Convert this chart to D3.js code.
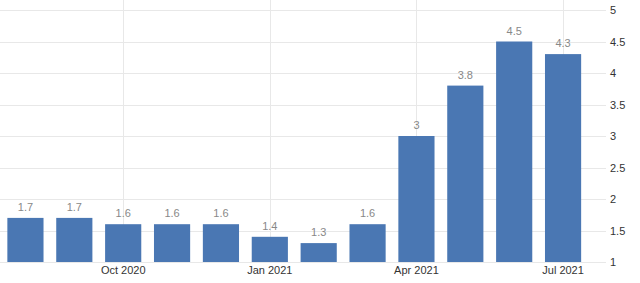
<!DOCTYPE html>
<html><head><meta charset="utf-8">
<script src="https://cdn.jsdelivr.net/npm/d3@7"></script>
<style>body{margin:0;background:#fff}svg{display:block}</style>
</head><body><div id="c"></div>
<script>
const months = ["Aug 2020","Sep 2020","Oct 2020","Nov 2020","Dec 2020","Jan 2021","Feb 2021","Mar 2021","Apr 2021","May 2021","Jun 2021","Jul 2021"];
const values = [1.7,1.7,1.6,1.6,1.6,1.4,1.3,1.6,3,3.8,4.5,4.3];
const xTickLabels = ["Oct 2020","Jan 2021","Apr 2021","Jul 2021"];
const yTicks = [1,1.5,2,2.5,3,3.5,4,4.5,5];

const W=640,H=283;
const svg=d3.select("#c").append("svg").attr("width",W).attr("height",H);
const x=d3.scaleBand().domain(months).range([1,587.5]).paddingInner(0.26).paddingOuter(0.13);
const y=d3.scaleLinear().domain([1,5]).range([262,10]);

// horizontal grid
svg.append("g").selectAll("line").data(yTicks).join("line")
 .attr("x1",0).attr("x2",606).attr("y1",d=>Math.round(y(d))+0.5).attr("y2",d=>Math.round(y(d))+0.5)
 .attr("stroke","#e8e8e8").attr("stroke-width",1);
// vertical grid
svg.append("g").selectAll("line").data(xTickLabels).join("line")
 .attr("x1",d=>Math.round(x(d)+x.bandwidth()/2)+0.5).attr("x2",d=>Math.round(x(d)+x.bandwidth()/2)+0.5)
 .attr("y1",0).attr("y2",262).attr("stroke","#e8e8e8");

// bars
svg.append("g").selectAll("rect").data(values).join("rect")
 .attr("x",(d,i)=>x(months[i])).attr("width",x.bandwidth())
 .attr("y",d=>y(d)).attr("height",d=>y(1)-y(d)).attr("fill","#4a77b3");

// value labels
svg.append("g").selectAll("text").data(values).join("text")
 .attr("x",(d,i)=>x(months[i])+x.bandwidth()/2).attr("y",d=>y(d)-7)
 .attr("text-anchor","middle").attr("font-family","Arial, 'Liberation Sans', sans-serif")
 .attr("font-size",11).attr("fill","#888").text(d=>d);

// y axis right
const ya=d3.axisRight(y).tickValues(yTicks).tickSize(0).tickPadding(0).tickFormat(d3.format("~g"));
const gy=svg.append("g").attr("transform","translate(610,0)").call(ya);
gy.select(".domain").remove();
gy.selectAll("text").attr("font-family","Arial, 'Liberation Sans', sans-serif").attr("font-size",11).attr("fill","#333");

// x axis
const xa=d3.axisBottom(x).tickValues(xTickLabels).tickSize(0).tickPadding(0);
const gx=svg.append("g").attr("transform","translate(0,266)").call(xa);
gx.select(".domain").remove();
gx.selectAll("text").attr("font-family","Arial, 'Liberation Sans', sans-serif").attr("font-size",11).attr("fill","#333").attr("dy","0.71em");
</script></body></html>
